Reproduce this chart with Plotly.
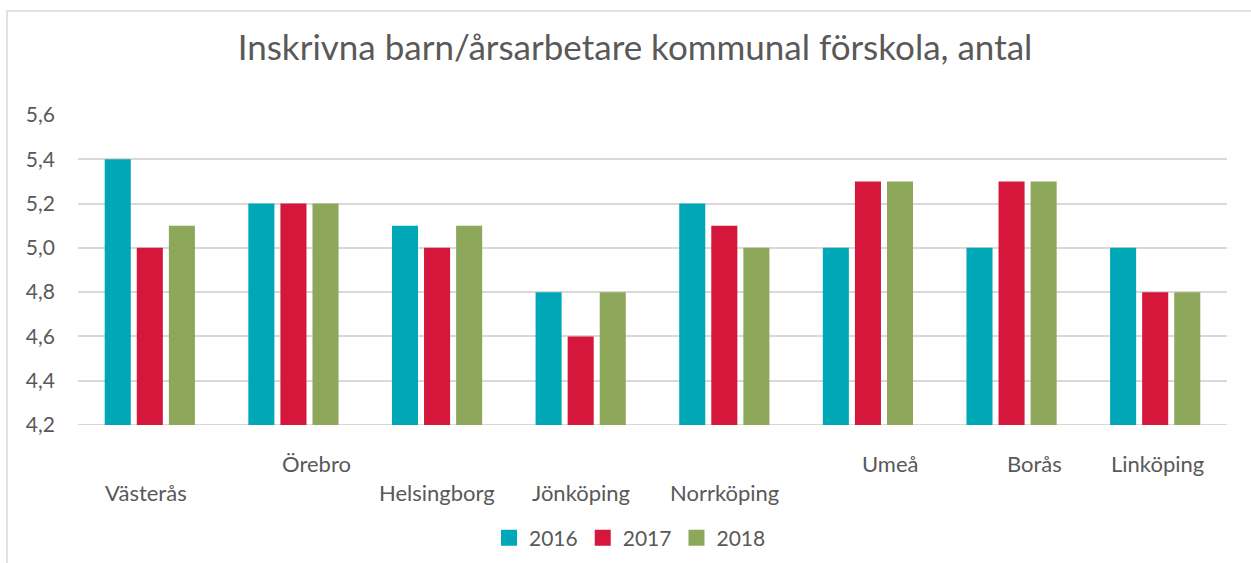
import plotly.graph_objects as go

categories = ["Västerås", "Örebro", "Helsingborg", "Jönköping", "Norrköping", "Umeå", "Borås", "Linköping"]
years = ["2016", "2017", "2018"]
v2016 = [5.4, 5.2, 5.1, 4.8, 5.2, 5.0, 5.0, 5.0]
v2017 = [5.0, 5.2, 5.0, 4.6, 5.1, 5.3, 5.3, 4.8]
v2018 = [5.1, 5.2, 5.1, 4.8, 5.0, 5.3, 5.3, 4.8]
y_ticks = [4.2, 4.4, 4.6, 4.8, 5.0, 5.2, 5.4, 5.6]
title_text = "Inskrivna barn/årsarbetare kommunal förskola, antal"

# label layout (row 1 = upper, row 2 = lower) and horizontal nudges, as in the original
label_row = [2, 1, 2, 2, 2, 1, 1, 1]
label_shift = [-4, 23, 0, 0, 0, 23, 23, 2]

colors = ["#00A8B7", "#D4173A", "#8EA85B"]
series = [v2016, v2017, v2018]

W, H = 1251, 563
L, R, T, B = 78, 24, 115, 138
plot_h = H - T - B
plot_w = W - L - R

FONT = "Lato"
TXT = "#595959"

fig = go.Figure()
for name, vals, c in zip(years, series, colors):
    fig.add_trace(go.Bar(x=categories, y=vals, name=name, marker_color=c,
                         marker_line_width=0, showlegend=False, legendgroup=name))
    fig.add_trace(go.Scatter(x=[None], y=[None], mode="markers", name=name, legendgroup=name,
                             marker=dict(symbol="square", size=16, color=c), showlegend=True))

def px_to_paper_y(py):
    return (H - B - py) / plot_h

row_y = {1: 463, 2: 492}
annotations = []
for cat, row, sh in zip(categories, label_row, label_shift):
    annotations.append(dict(x=cat, xref="x", y=px_to_paper_y(row_y[row]), yref="paper",
                            text=cat, showarrow=False, xshift=sh, yanchor="middle",
                            font=dict(family=FONT, size=22, color=TXT)))

fig.update_layout(
    width=W, height=H,
    margin=dict(l=L, r=R, t=T, b=B, autoexpand=False),
    paper_bgcolor="white", plot_bgcolor="white",
    barmode="group", bargap=0.33, bargroupgap=0.1875,
    title=dict(text=title_text, x=635 / W, xanchor="center", xref="container",
               y=1 - 48 / H, yanchor="middle", yref="container",
               font=dict(family=FONT, size=35, color=TXT)),
    xaxis=dict(showticklabels=False, showgrid=False, showline=False, ticks="",
               range=[-0.5, len(categories) - 0.5]),
    yaxis=dict(range=[4.2, 5.6], tickvals=y_ticks,
               ticktext=[f"{v:.1f}".replace(".", ",") for v in y_ticks],
               showgrid=True, gridcolor="#D9D9D9", gridwidth=1.6,
               zeroline=False, showline=False, ticks="", ticklen=0,
               ticklabelstandoff=22,
               tickfont=dict(family=FONT, size=21, color=TXT)),
    legend=dict(orientation="h", x=630 / W, xref="container", xanchor="center",
                y=1 - 538 / H, yref="container", yanchor="middle",
                font=dict(family=FONT, size=21, color=TXT), itemwidth=30,
                traceorder="normal", tracegroupgap=0),
    annotations=annotations,
    shapes=[dict(type="rect", xref="paper", yref="paper",
                 x0=(7 - L) / plot_w, x1=(W + 20 - L) / plot_w,
                 y0=px_to_paper_y(H + 20), y1=px_to_paper_y(11),
                 line=dict(color="#D9D9D9", width=1.5), fillcolor="rgba(0,0,0,0)", layer="below"),
            dict(type="line", xref="paper", yref="y", x0=0, x1=1, y0=4.2, y1=4.2,
                 line=dict(color="#D9D9D9", width=2), layer="below")],
)
fig.write_html("out.html", config={"displayModeBar": False},
               post_script="document.body.style.margin='0';")
